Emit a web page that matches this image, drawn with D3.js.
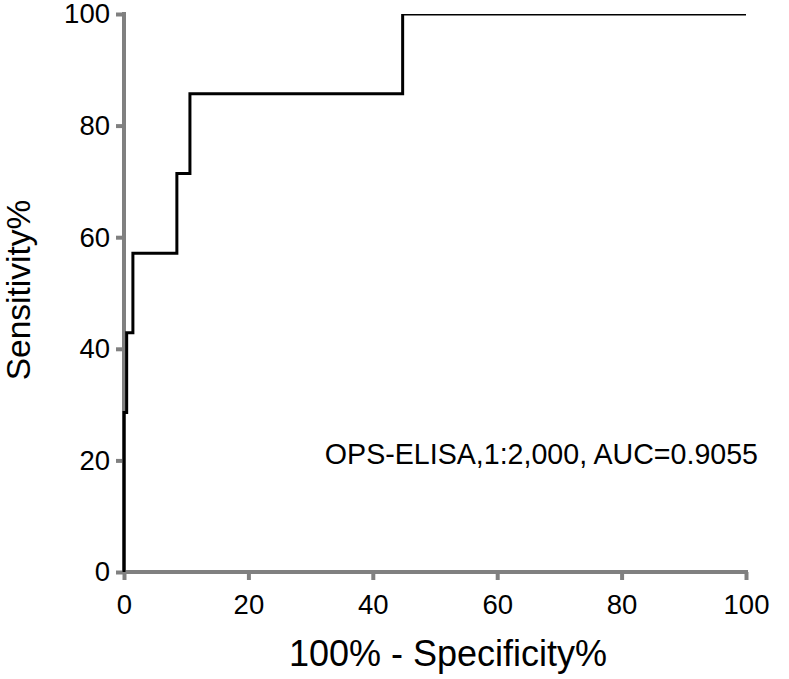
<!DOCTYPE html>
<html lang='en'>
<head>
  <title>ROC curve</title>
  <script src='https://cdn.jsdelivr.net/npm/d3@7'></script>
  <style>
    body { margin: 0; background: #fff; }
    text { font-family: "Liberation Sans", Arial, sans-serif; }
  </style>
</head>
<body>
  <script>
    // ROC points
    let fpr = [0, 0, 0.43, 1.43, 8.5, 10.6, 44.8, 100];       // 100% - Specificity%
    let sens = [0, 28.57, 42.86, 57.14, 71.43, 85.71, 100, 100]; // Sensitivity%
    let ticks = [0, 20, 40, 60, 80, 100];
    let label = "OPS-ELISA,1:2,000, AUC=0.9055";

    let width = 789, height = 679;
    let svg = d3.select("body").append("svg")
      .attr("width", width)
      .attr("height", height);

    let xScale = d3.scaleLinear().domain([0, 100]).range([124, 746]);
    let yScale = d3.scaleLinear().domain([0, 100]).range([572, 14]);
    let axisColor = "#808080";

    // x axis
    let xAxisG = svg.append("g")
      .attr("transform", `translate(0, ${yScale(0)})`)
      .call(d3.axisBottom(xScale).tickValues(ticks).tickSize(8).tickPadding(14).tickSizeOuter(0));
    // y axis
    let yAxisG = svg.append("g")
      .attr("transform", `translate(${xScale(0)}, 0)`)
      .call(d3.axisLeft(yScale).tickValues(ticks).tickSize(8).tickPadding(6).tickSizeOuter(0));

    [xAxisG, yAxisG].forEach(g => {
      g.select(".domain").attr("stroke", axisColor).attr("stroke-width", 4);
      g.selectAll(".tick line").attr("stroke", axisColor).attr("stroke-width", 4);
      g.selectAll(".tick text").attr("fill", "#000").attr("font-size", 27.5);
    });
    xAxisG.select(".domain").attr("d", `M${xScale(0) - 2},0H${xScale(100) + 2}`);
    yAxisG.select(".domain").attr("d", `M0,${yScale(0) + 2}V${yScale(100) - 2}`);

    // clip so the top line sits half inside the plot
    svg.append("clipPath").attr("id", "plotClip")
      .append("rect")
      .attr("x", 0).attr("y", yScale(100))
      .attr("width", width).attr("height", height);

    let points = fpr.map((x, i) => ({ x: x, y: sens[i] }));
    let line = d3.line()
      .x(d => xScale(d.x))
      .y(d => yScale(d.y))
      .curve(d3.curveStepAfter);
    svg.append("path")
      .attr("d", line(points))
      .attr("fill", "none")
      .attr("stroke", "#000")
      .attr("stroke-width", 3)
      .attr("clip-path", "url(#plotClip)");

    // annotation
    svg.append("text").text(label)
      .attr("x", 758).attr("y", 464)
      .attr("text-anchor", "end")
      .attr("font-size", 28.6);

    // axis titles
    svg.append("text").text("100% - Specificity%")
      .attr("x", (xScale(0) + xScale(100)) / 2 + 13).attr("y", 666)
      .attr("text-anchor", "middle")
      .attr("font-size", 36);
    svg.append("text").text("Sensitivity%")
      .attr("transform", `translate(${30}, ${290}) rotate(-90)`)
      .attr("text-anchor", "middle")
      .attr("font-size", 33.5);
  </script>
</body>
</html>
